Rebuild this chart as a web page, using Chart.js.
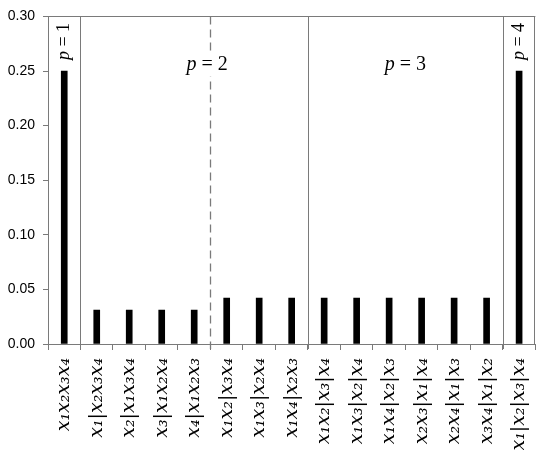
<!DOCTYPE html>
<html>
<head>
<meta charset="utf-8">
<script src="https://cdn.jsdelivr.net/npm/chart.js@4"></script>
<style>
  html, body { margin: 0; padding: 0; background: #fff; }
  #wrap { width: 550px; height: 450px; }
</style>
</head>
<body>
<div id="wrap"><canvas id="chart"></canvas></div>
<script>
const categories = [
    'x₁x₂x₃x₄',
    'x₁|x₂x₃x₄', 'x₂|x₁x₃x₄', 'x₃|x₁x₂x₄', 'x₄|x₁x₂x₃',
    'x₁x₂|x₃x₄', 'x₁x₃|x₂x₄', 'x₁x₄|x₂x₃',
    'x₁x₂|x₃|x₄', 'x₁x₃|x₂|x₄', 'x₁x₄|x₂|x₃', 'x₂x₃|x₁|x₄', 'x₂x₄|x₁|x₃', 'x₃x₄|x₁|x₂',
    'x₁|x₂|x₃|x₄'
];
const values = [
    0.25,
    0.031, 0.031, 0.031, 0.031,
    0.042, 0.042, 0.042,
    0.042, 0.042, 0.042, 0.042, 0.042, 0.042,
    0.25
];
const yTicks = [0, 0.05, 0.10, 0.15, 0.20, 0.25, 0.30];

// group separators (between category indices) and group labels
const separators = [0.5, 4.5, 7.5, 13.5];
const dashedSeparators = [4.5];
const groupLabels = ['1', '2', '3', '4'];
const groupPos = [0, 4.4, 10.5, 14];
const groupRotated = [true, false, false, true];

const lineColor = '#7a7a7a';

const groupPlugin = {
    id: 'groups',
    afterDatasetsDraw(chart) {
        const { ctx, chartArea, scales: { x, y } } = chart;
        ctx.save();
        ctx.strokeStyle = lineColor;
        ctx.lineWidth = 1;
        // top and right frame
        ctx.beginPath();
        ctx.moveTo(chartArea.left, Math.round(chartArea.top) + 0.5);
        ctx.lineTo(chartArea.right, Math.round(chartArea.top) + 0.5);
        ctx.moveTo(Math.round(chartArea.right) - 0.5, chartArea.top);
        ctx.lineTo(Math.round(chartArea.right) - 0.5, chartArea.bottom);
        ctx.stroke();
        separators.forEach(s => {
            const px = Math.round(x.getPixelForValue(s)) + 0.5;
            const dashed = dashedSeparators.includes(s);
            ctx.setLineDash(dashed ? [8, 5] : []);
            ctx.lineWidth = dashed ? 1.3 : 1;
            ctx.beginPath();
            ctx.moveTo(px, chartArea.top);
            ctx.lineTo(px, chartArea.bottom + 5);
            ctx.stroke();
        });
        ctx.setLineDash([]);

        groupLabels.forEach((g, i) => {
            const px = x.getPixelForValue(groupPos[i]);
            ctx.fillStyle = '#000';
            ctx.textBaseline = 'middle';
            if (groupRotated[i]) {
                const py = y.getPixelForValue(0.277);
                ctx.translate(px, py);
                ctx.rotate(-Math.PI / 2);
                drawP(ctx, g, 18, 0, 0);
                ctx.setTransform(1, 0, 0, 1, 0, 0);
            } else {
                const py = y.getPixelForValue(0.256);
                drawP(ctx, g, 20, px, py, true);
            }
        });
        ctx.restore();
    }
};

function drawP(ctx, g, size, cx, cy, bg) {
    const italic = `italic ${size}px "Liberation Serif", "DejaVu Serif", serif`;
    const upright = `${size}px "Liberation Serif", "DejaVu Serif", serif`;
    ctx.font = italic;
    const w1 = ctx.measureText('p').width;
    ctx.font = upright;
    const rest = ' = ' + g;
    const w2 = ctx.measureText(rest).width;
    const left = cx - (w1 + w2) / 2;
    if (bg) {
        ctx.fillStyle = '#fff';
        ctx.fillRect(left - 4, cy - size * 0.6, w1 + w2 + 8, size * 1.2);
        ctx.fillStyle = '#000';
    }
    ctx.textAlign = 'left';
    ctx.font = italic;
    ctx.fillText('p', left, cy);
    ctx.font = upright;
    ctx.fillText(rest, left + w1, cy);
}

new Chart(document.getElementById('chart'), {
    type: 'bar',
    data: {
        labels: categories,
        datasets: [{
            data: values,
            backgroundColor: '#000',
            borderWidth: 0,
            barThickness: 6
        }]
    },
    options: {
        responsive: true,
        maintainAspectRatio: false,
        animation: false,
        layout: { padding: { top: 10, right: 3, left: 0, bottom: 0 } },
        plugins: {
            legend: { display: false },
            tooltip: { enabled: false }
        },
        scales: {
            x: {
                grid: { drawOnChartArea: false, color: lineColor, tickLength: 6, offset: true },
                border: { color: lineColor },
                ticks: {
                    minRotation: 90,
                    maxRotation: 90,
                    autoSkip: false,
                    padding: 8,
                    color: '#000',
                    font: { family: '"DejaVu Serif", serif', style: 'italic', size: 19 }
                },
                afterFit(scale) { scale.height = 106; }
            },
            y: {
                min: 0,
                max: 0.3,
                grid: { drawOnChartArea: false, color: lineColor, tickLength: 5 },
                border: { color: lineColor },
                afterBuildTicks(scale) { scale.ticks = yTicks.map(v => ({ value: v })); },
                ticks: {
                    padding: 8,
                    color: '#000',
                    font: { family: '"Liberation Sans", Arial, sans-serif', size: 14 },
                    callback: v => v.toFixed(2)
                },
                afterFit(scale) { scale.width = 48; }
            }
        }
    },
    plugins: [groupPlugin]
});
</script>
</body>
</html>
